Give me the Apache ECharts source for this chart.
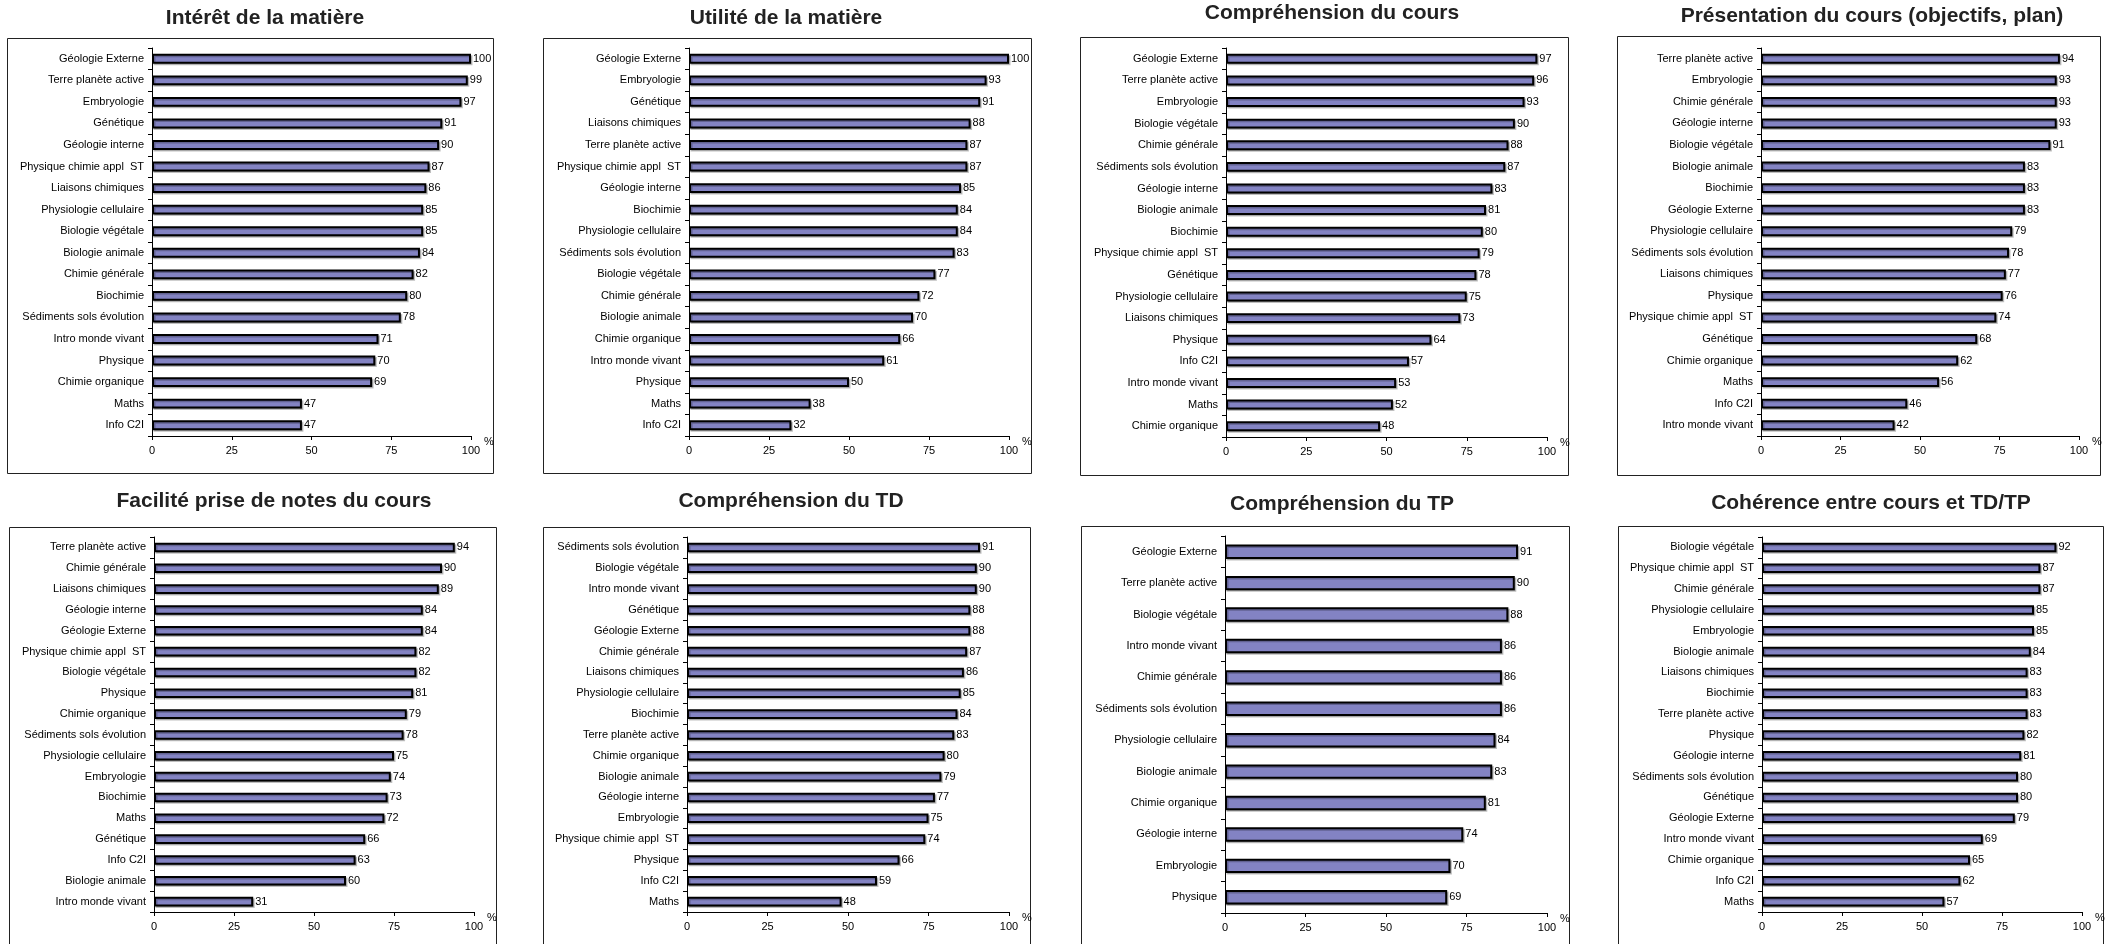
<!DOCTYPE html>
<html>
<head>
<meta charset="utf-8">
<script src="https://cdn.jsdelivr.net/npm/echarts@6/dist/echarts.min.js"></script>
<style>
html,body{margin:0;padding:0;background:#fff;}
#chart{width:2125px;height:944px;}
</style>
</head>
<body>
<div id="chart"></div>
<script>
// ---- Data ----
const titles = [
  "Intérêt de la matière",
  "Utilité de la matière",
  "Compréhension du cours",
  "Présentation du cours (objectifs, plan)",
  "Facilité prise de notes du cours",
  "Compréhension du TD",
  "Compréhension du TP",
  "Cohérence entre cours et TD/TP"
];

const cats1 = ["Géologie Externe","Terre planète active","Embryologie","Génétique","Géologie interne","Physique chimie appl  ST","Liaisons chimiques","Physiologie cellulaire","Biologie végétale","Biologie animale","Chimie générale","Biochimie","Sédiments sols évolution","Intro monde vivant","Physique","Chimie organique","Maths","Info C2I"];
const vals1 = [100,99,97,91,90,87,86,85,85,84,82,80,78,71,70,69,47,47];

const cats2 = ["Géologie Externe","Embryologie","Génétique","Liaisons chimiques","Terre planète active","Physique chimie appl  ST","Géologie interne","Biochimie","Physiologie cellulaire","Sédiments sols évolution","Biologie végétale","Chimie générale","Biologie animale","Chimie organique","Intro monde vivant","Physique","Maths","Info C2I"];
const vals2 = [100,93,91,88,87,87,85,84,84,83,77,72,70,66,61,50,38,32];

const cats3 = ["Géologie Externe","Terre planète active","Embryologie","Biologie végétale","Chimie générale","Sédiments sols évolution","Géologie interne","Biologie animale","Biochimie","Physique chimie appl  ST","Génétique","Physiologie cellulaire","Liaisons chimiques","Physique","Info C2I","Intro monde vivant","Maths","Chimie organique"];
const vals3 = [97,96,93,90,88,87,83,81,80,79,78,75,73,64,57,53,52,48];

const cats4 = ["Terre planète active","Embryologie","Chimie générale","Géologie interne","Biologie végétale","Biologie animale","Biochimie","Géologie Externe","Physiologie cellulaire","Sédiments sols évolution","Liaisons chimiques","Physique","Physique chimie appl  ST","Génétique","Chimie organique","Maths","Info C2I","Intro monde vivant"];
const vals4 = [94,93,93,93,91,83,83,83,79,78,77,76,74,68,62,56,46,42];

const cats5 = ["Terre planète active","Chimie générale","Liaisons chimiques","Géologie interne","Géologie Externe","Physique chimie appl  ST","Biologie végétale","Physique","Chimie organique","Sédiments sols évolution","Physiologie cellulaire","Embryologie","Biochimie","Maths","Génétique","Info C2I","Biologie animale","Intro monde vivant"];
const vals5 = [94,90,89,84,84,82,82,81,79,78,75,74,73,72,66,63,60,31];

const cats6 = ["Sédiments sols évolution","Biologie végétale","Intro monde vivant","Génétique","Géologie Externe","Chimie générale","Liaisons chimiques","Physiologie cellulaire","Biochimie","Terre planète active","Chimie organique","Biologie animale","Géologie interne","Embryologie","Physique chimie appl  ST","Physique","Info C2I","Maths"];
const vals6 = [91,90,90,88,88,87,86,85,84,83,80,79,77,75,74,66,59,48];

const cats7 = ["Géologie Externe","Terre planète active","Biologie végétale","Intro monde vivant","Chimie générale","Sédiments sols évolution","Physiologie cellulaire","Biologie animale","Chimie organique","Géologie interne","Embryologie","Physique"];
const vals7 = [91,90,88,86,86,86,84,83,81,74,70,69];

const cats8 = ["Biologie végétale","Physique chimie appl  ST","Chimie générale","Physiologie cellulaire","Embryologie","Biologie animale","Liaisons chimiques","Biochimie","Terre planète active","Physique","Géologie interne","Sédiments sols évolution","Génétique","Géologie Externe","Intro monde vivant","Chimie organique","Info C2I","Maths"];
const vals8 = [92,87,87,85,85,84,83,83,83,82,81,80,80,79,69,65,62,57];

const xMin = 0, xMax = 100, xStep = 25;

// ---- Layout (positions / styles) ----
const panels = [
  {cats: cats1, vals: vals1, grid: {left:152, top:48, width:319, height:388}, box:[7,38,486,435], title:[260,3]},
  {cats: cats2, vals: vals2, grid: {left:689, top:48, width:320, height:388}, box:[543,38,488,435], title:[781,3]},
  {cats: cats3, vals: vals3, grid: {left:1226, top:48, width:321, height:389}, box:[1080,37,488,438], title:[1327,-2]},
  {cats: cats4, vals: vals4, grid: {left:1761, top:48, width:318, height:388}, box:[1617,36,483,439], title:[1867,1]},
  {cats: cats5, vals: vals5, grid: {left:154, top:537, width:320, height:375}, box:[9,527,487,440], title:[269,486]},
  {cats: cats6, vals: vals6, grid: {left:687, top:537, width:322, height:375}, box:[543,527,487,440], title:[786,486]},
  {cats: cats7, vals: vals7, grid: {left:1225, top:536, width:322, height:377}, box:[1081,526,488,440], title:[1337,489]},
  {cats: cats8, vals: vals8, grid: {left:1762, top:537, width:320, height:375}, box:[1618,526,485,440], title:[1866,488]}
];

const FONT = '"Liberation Sans", Arial, sans-serif';
const BAR_COLOR = '#8383C3';

const option = {
  backgroundColor: '#ffffff',
  animation: false,
  textStyle: {fontFamily: FONT},
  title: panels.map((p, i) => ({
    text: titles[i],
    left: p.title[0],
    top: p.title[1],
    textAlign: 'center',
    textStyle: {fontFamily: FONT, fontSize: 21, fontWeight: 'bold', color: '#222'}
  })),
  graphic: panels.map(p => ({
    type: 'rect',
    silent: true,
    z: -1,
    shape: {x: p.box[0] + 0.5, y: p.box[1] + 0.5, width: p.box[2], height: p.box[3]},
    style: {fill: 'none', stroke: '#222', lineWidth: 1}
  })),
  grid: panels.map(p => Object.assign({containLabel: false}, p.grid)),
  xAxis: panels.map((p, i) => ({
    type: 'value',
    gridIndex: i,
    min: xMin, max: xMax, interval: xStep,
    name: '%',
    nameLocation: 'end',
    nameGap: 8,
    nameTextStyle: {fontFamily: FONT, fontSize: 11, color: '#000', verticalAlign: 'top', padding: [0,0,0,0]},
    axisLine: {show: true, lineStyle: {color: '#000', width: 1}},
    axisTick: {show: true, length: 4, lineStyle: {color: '#000'}},
    axisLabel: {fontFamily: FONT, fontSize: 11, color: '#000', margin: 9},
    splitLine: {show: false}
  })),
  yAxis: panels.map((p, i) => ({
    type: 'category',
    gridIndex: i,
    inverse: true,
    data: p.cats,
    axisLine: {show: true, lineStyle: {color: '#000', width: 1}},
    axisTick: {show: true, length: 4, lineStyle: {color: '#000'}},
    axisLabel: {fontFamily: FONT, fontSize: 11, color: '#000', margin: 8, interval: 0},
    splitLine: {show: false}
  })),
  series: panels.map((p, i) => ({
    type: 'bar',
    xAxisIndex: i,
    yAxisIndex: i,
    data: p.vals,
    barWidth: '46%',
    itemStyle: {
      color: BAR_COLOR, borderColor: '#000', borderWidth: 2,
      shadowColor: 'rgba(0,0,0,0.25)', shadowOffsetX: 1.5, shadowOffsetY: 1.5, shadowBlur: 0
    },
    label: {show: true, position: 'right', distance: 2, fontFamily: FONT, fontSize: 11, color: '#000'}
  }))
};

const chart = echarts.init(document.getElementById('chart'), null, {renderer: 'canvas'});
chart.setOption(option);
</script>
</body>
</html>
